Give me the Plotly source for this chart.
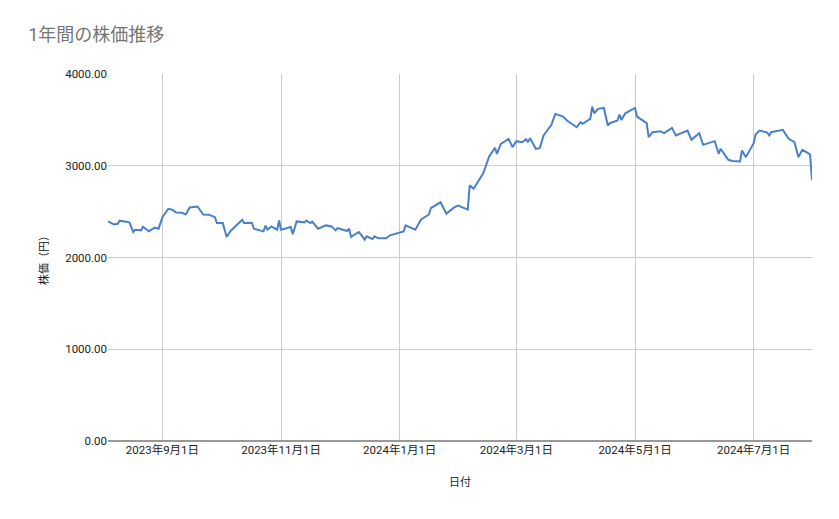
import plotly.graph_objects as go

dates = ["2023-08-04","2023-08-07","2023-08-09","2023-08-10","2023-08-15","2023-08-17","2023-08-18","2023-08-21","2023-08-22","2023-08-25","2023-08-28","2023-08-30",
"2023-09-01","2023-09-04","2023-09-06","2023-09-08","2023-09-11","2023-09-13","2023-09-15","2023-09-19","2023-09-22","2023-09-25","2023-09-28","2023-09-29",
"2023-10-02","2023-10-04","2023-10-06","2023-10-10","2023-10-12","2023-10-13","2023-10-17","2023-10-18","2023-10-23","2023-10-24","2023-10-25","2023-10-27","2023-10-30","2023-10-31",
"2023-11-01","2023-11-06","2023-11-07","2023-11-09","2023-11-13","2023-11-14","2023-11-16","2023-11-17","2023-11-20","2023-11-24","2023-11-27","2023-11-29","2023-11-30",
"2023-12-05","2023-12-06","2023-12-07","2023-12-11","2023-12-12","2023-12-14","2023-12-15","2023-12-18","2023-12-19","2023-12-21","2023-12-25","2023-12-27",
"2024-01-03","2024-01-04","2024-01-09","2024-01-12","2024-01-16","2024-01-17","2024-01-22","2024-01-25","2024-01-29","2024-01-31",
"2024-02-05","2024-02-06","2024-02-08","2024-02-13","2024-02-16","2024-02-19","2024-02-20","2024-02-22","2024-02-26","2024-02-28",
"2024-03-01","2024-03-04","2024-03-06","2024-03-07","2024-03-08","2024-03-11","2024-03-13","2024-03-15","2024-03-19","2024-03-21","2024-03-25","2024-03-26","2024-03-27",
"2024-04-01","2024-04-02","2024-04-03","2024-04-04","2024-04-08","2024-04-09","2024-04-10","2024-04-12","2024-04-15","2024-04-17","2024-04-18","2024-04-22","2024-04-23","2024-04-24","2024-04-26",
"2024-05-01","2024-05-02","2024-05-07","2024-05-08","2024-05-10","2024-05-14","2024-05-16","2024-05-20","2024-05-22","2024-05-24","2024-05-28","2024-05-30",
"2024-06-03","2024-06-05","2024-06-11","2024-06-13","2024-06-14","2024-06-18","2024-06-20","2024-06-24","2024-06-25","2024-06-27",
"2024-07-01","2024-07-02","2024-07-04","2024-07-08","2024-07-09","2024-07-10","2024-07-16","2024-07-19","2024-07-22","2024-07-24","2024-07-26","2024-07-29","2024-07-30","2024-07-31"]
prices = [2393,2361,2368,2401,2383,2278,2303,2296,2336,2285,2325,2314,
2440,2531,2520,2491,2487,2469,2545,2556,2469,2466,2440,2375,
2375,2224,2289,2368,2411,2375,2379,2314,2285,2347,2303,2339,2303,2404,
2303,2332,2253,2393,2383,2404,2375,2390,2314,2350,2339,2296,2321,
2289,2314,2224,2278,2253,2195,2231,2202,2231,2209,2209,2242,
2285,2350,2303,2415,2469,2538,2602,2478,2546,2565,
2522,2786,2750,2920,3101,3196,3130,3239,3293,3203,
3268,3257,3290,3257,3301,3185,3192,3330,3446,3565,3536,3511,3493,
3420,3449,3475,3457,3511,3645,3572,3620,3630,3438,3464,3493,3558,3500,3572,
3630,3536,3464,3312,3366,3377,3355,3413,3330,3348,3384,3283,
3355,3228,3268,3130,3185,3065,3051,3047,3167,3094,
3246,3341,3384,3362,3330,3366,3391,3293,3257,3094,3174,3138,3123,2841]

tick_dates = ["2023-09-01","2023-11-01","2024-01-01","2024-03-01","2024-05-01","2024-07-01"]
tick_labels = ["2023年9月1日","2023年11月1日","2024年1月1日","2024年3月1日","2024年5月1日","2024年7月1日"]

font = "Roboto, 'Noto Sans CJK JP', sans-serif"
fig = go.Figure(go.Scatter(x=dates, y=prices, mode="lines",
                           line=dict(color="#4a80c8", width=2)))
fig.update_layout(
    width=839, height=519, paper_bgcolor="white", plot_bgcolor="white",
    margin=dict(l=100, r=35, t=66, b=86),
    font=dict(family=font, color="#222222", size=11),
    title=dict(text="1年間の株価推移", x=0.024, xanchor="left", y=0.96, yanchor="top",
               font=dict(size=18, color="#757575", family=font)),
    showlegend=False,
    xaxis=dict(range=["2023-08-04", "2024-07-31"], tickvals=tick_dates, ticktext=tick_labels,
               showgrid=True, gridcolor="#cccccc", zeroline=False, showline=False,
               title=dict(text="日付", standoff=22, font=dict(size=11)), ticks="",
               tickfont=dict(size=11.5)),
    yaxis=dict(range=[0, 4000], tickvals=[0, 1000, 2000, 3000, 4000], tickformat=".2f",
               showgrid=True, gridcolor="#cccccc", zeroline=True, zerolinecolor="#999999",
               title=dict(text="株価（円）", standoff=14, font=dict(size=11)), ticks="",
               tickfont=dict(size=11.5)),
)
fig.write_html("out.html")
